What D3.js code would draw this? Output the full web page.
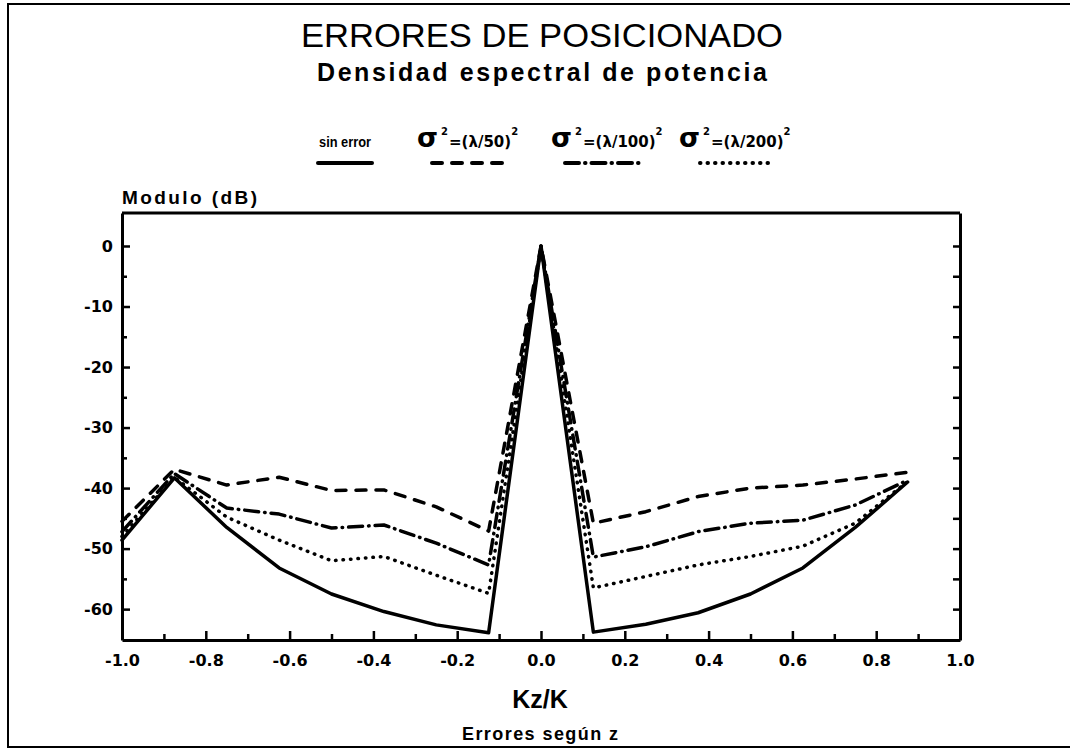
<!DOCTYPE html>
<meta charset="utf-8">
<title>Errores de posicionado</title>
<script src="https://d3js.org/d3.v7.min.js"></script>
<style>
  body { margin: 0; background: #fff; }
  text { fill: #000; }
</style>
<body>
<div id="chart"></div>
<script>
// values (dB)
var kz        = [-1.0, -0.875, -0.75, -0.625, -0.5, -0.375, -0.25, -0.125, 0, 0.125, 0.25, 0.375, 0.5, 0.625, 0.75, 0.875];
var sinError  = [-48.6, -38.3, -46.5, -53.2, -57.5, -60.4, -62.6, -63.9, 0, -63.8, -62.5, -60.6, -57.5, -53.2, -46.5, -39.0];
var lambda50  = [-45.5, -36.9, -39.5, -38.2, -40.4, -40.3, -43.1, -47.1, 0, -45.8, -43.9, -41.4, -40.0, -39.5, -38.5, -37.4];
var lambda100 = [-47.2, -37.6, -43.3, -44.3, -46.6, -46.1, -49.1, -52.7, 0, -51.4, -49.7, -47.2, -45.8, -45.3, -42.8, -38.7];
var lambda200 = [-48.0, -38.2, -44.8, -48.6, -52.0, -51.3, -54.4, -57.4, 0, -56.5, -54.6, -52.7, -51.3, -49.6, -45.8, -38.9];

var xTicks = [-1.0, -0.8, -0.6, -0.4, -0.2, 0.0, 0.2, 0.4, 0.6, 0.8, 1.0];
var xMinor = [-0.9, -0.7, -0.5, -0.3, -0.1, 0.1, 0.3, 0.5, 0.7, 0.9];
var yTicks = [0, -10, -20, -30, -40, -50, -60];
var yMinor = [-5, -15, -25, -35, -45, -55];

var W = 1070, H = 750;
var margin = {top: 213, right: 110, bottom: 110, left: 122},
    width = W - margin.left - margin.right,
    height = H - margin.top - margin.bottom;

var svg = d3.select("#chart").append("svg")
    .attr("width", W)
    .attr("height", H);

// outer frame (left, top, bottom)
svg.append("path")
    .attr("d", "M1070,4 L8,4 L8,747 L1070,747")
    .attr("fill", "none")
    .attr("stroke", "#000")
    .attr("stroke-width", 2);

// titles
svg.append("text")
    .attr("x", 542).attr("y", 47)
    .attr("text-anchor", "middle")
    .attr("font-family", "Liberation Sans, Arial, sans-serif")
    .attr("font-size", 34)
    .attr("textLength", 482).attr("lengthAdjust", "spacingAndGlyphs")
    .text("ERRORES DE POSICIONADO");

svg.append("text")
    .attr("x", 542).attr("y", 81)
    .attr("text-anchor", "middle")
    .attr("font-family", "Liberation Sans, Arial, sans-serif")
    .attr("font-weight", "bold")
    .attr("font-size", 25)
    .attr("textLength", 450).attr("lengthAdjust", "spacing")
    .text("Densidad espectral de potencia");

var g = svg.append("g")
    .attr("transform", "translate(" + margin.left + "," + margin.top + ")");

var x = d3.scaleLinear().domain([-1, 1]).range([0, width]);
var y = d3.scaleLinear().domain([-65.1, 5.45]).range([height, 0]);

var fmt = function(d) { return d3.format(".1f")(d).replace("\u2212", "-"); };

// x axis
g.append("g")
    .attr("transform", "translate(0," + height + ")")
    .call(d3.axisBottom(x).tickValues(xTicks).tickSizeInner(-9).tickSizeOuter(0).tickPadding(15).tickFormat(fmt));
g.append("g")
    .attr("transform", "translate(0," + height + ")")
    .call(d3.axisBottom(x).tickValues(xMinor).tickSizeInner(-6).tickSizeOuter(0).tickFormat(""))
    .call(a => a.select(".domain").remove());

// y axis left
g.append("g")
    .call(d3.axisLeft(y).tickValues(yTicks).tickSizeInner(-8).tickSizeOuter(0).tickPadding(9)
      .tickFormat(d => String(d).replace("\u2212", "-")));
g.append("g")
    .call(d3.axisLeft(y).tickValues(yMinor).tickSizeInner(-5).tickSizeOuter(0).tickFormat(""))
    .call(a => a.select(".domain").remove());

// y axis right, ticks only
g.append("g")
    .attr("transform", "translate(" + width + ",0)")
    .call(d3.axisRight(y).tickValues(yTicks.concat(yMinor)).tickSizeInner(-7).tickSizeOuter(0).tickFormat(""));

// top border
g.append("line")
    .attr("x1", 0).attr("x2", width)
    .attr("y1", 0).attr("y2", 0)
    .attr("stroke", "#000").attr("stroke-width", 3);

g.selectAll(".domain").attr("stroke-width", 3);
g.selectAll(".tick line").attr("stroke-width", 2.5);
g.selectAll(".tick text")
    .attr("font-family", "DejaVu Sans, sans-serif")
    .attr("font-weight", "bold")
    .attr("font-size", 16)
    .attr("fill", "#000");

// axis titles
svg.append("text")
    .attr("x", 122).attr("y", 204)
    .attr("font-family", "Liberation Sans, Arial, sans-serif")
    .attr("font-weight", "bold")
    .attr("font-size", 19)
    .attr("textLength", 135).attr("lengthAdjust", "spacing")
    .text("Modulo (dB)");

svg.append("text")
    .attr("x", 540).attr("y", 708)
    .attr("text-anchor", "middle")
    .attr("font-family", "Liberation Sans, Arial, sans-serif")
    .attr("font-weight", "bold")
    .attr("font-size", 25)
    .text("Kz/K");

svg.append("text")
    .attr("x", 540).attr("y", 740)
    .attr("text-anchor", "middle")
    .attr("font-family", "Liberation Sans, Arial, sans-serif")
    .attr("font-weight", "bold")
    .attr("font-size", 18)
    .attr("textLength", 156).attr("lengthAdjust", "spacing")
    .text("Errores según z");

// curves
var series = [
  {name: "sin error", values: sinError,  dash: null},
  {name: "50",        values: lambda50,  dash: "10,10"},
  {name: "100",       values: lambda100, dash: "14,6,0.5,6"},
  {name: "200",       values: lambda200, dash: "0.5,7"}
];

var line = d3.line()
    .x((d, i) => x(kz[i]))
    .y(d => y(d));

g.selectAll(".curve")
  .data(series)
  .join("path")
    .attr("class", "curve")
    .attr("d", d => line(d.values))
    .attr("fill", "none")
    .attr("stroke", "#000")
    .attr("stroke-width", 3.5)
    .attr("stroke-linecap", "round")
    .attr("stroke-linejoin", "round")
    .attr("stroke-dasharray", d => d.dash);

// legend
var legendY = 163;
var legendItems = [
  {s: series[0], x0: 318, x1: 372},
  {s: series[1], x0: 432, x1: 505},
  {s: series[2], x0: 565, x1: 640},
  {s: series[3], x0: 700, x1: 775}
];
svg.selectAll(".leg-line")
  .data(legendItems)
  .join("line")
    .attr("x1", d => d.x0).attr("x2", d => d.x1)
    .attr("y1", legendY).attr("y2", legendY)
    .attr("stroke", "#000")
    .attr("stroke-width", 4)
    .attr("stroke-linecap", "round")
    .attr("stroke-dasharray", d => d.s.dash);

svg.append("text")
    .attr("x", 345).attr("y", 147)
    .attr("text-anchor", "middle")
    .attr("font-family", "Liberation Sans, Arial, sans-serif")
    .attr("font-weight", "bold")
    .attr("font-size", 15)
    .attr("textLength", 52).attr("lengthAdjust", "spacingAndGlyphs")
    .text("sin error");

var sigmaLabels = [{x: 417, t: "=(\u03bb/50)"}, {x: 551, t: "=(\u03bb/100)"}, {x: 679, t: "=(\u03bb/200)"}];
sigmaLabels.forEach(function(l) {
  var t = svg.append("text")
      .attr("x", l.x).attr("y", 147)
      .attr("font-family", "DejaVu Sans, sans-serif")
      .attr("font-weight", "bold");
  t.append("tspan").attr("font-size", 27).text("\u03c3");
  t.append("tspan").attr("font-size", 10).attr("dy", -12).attr("dx", 3).text("2");
  t.append("tspan").attr("font-size", 15).attr("dy", 12).attr("dx", 1).text(l.t);
  t.append("tspan").attr("font-size", 10).attr("dy", -12).text("2");
});
</script>
</body>
